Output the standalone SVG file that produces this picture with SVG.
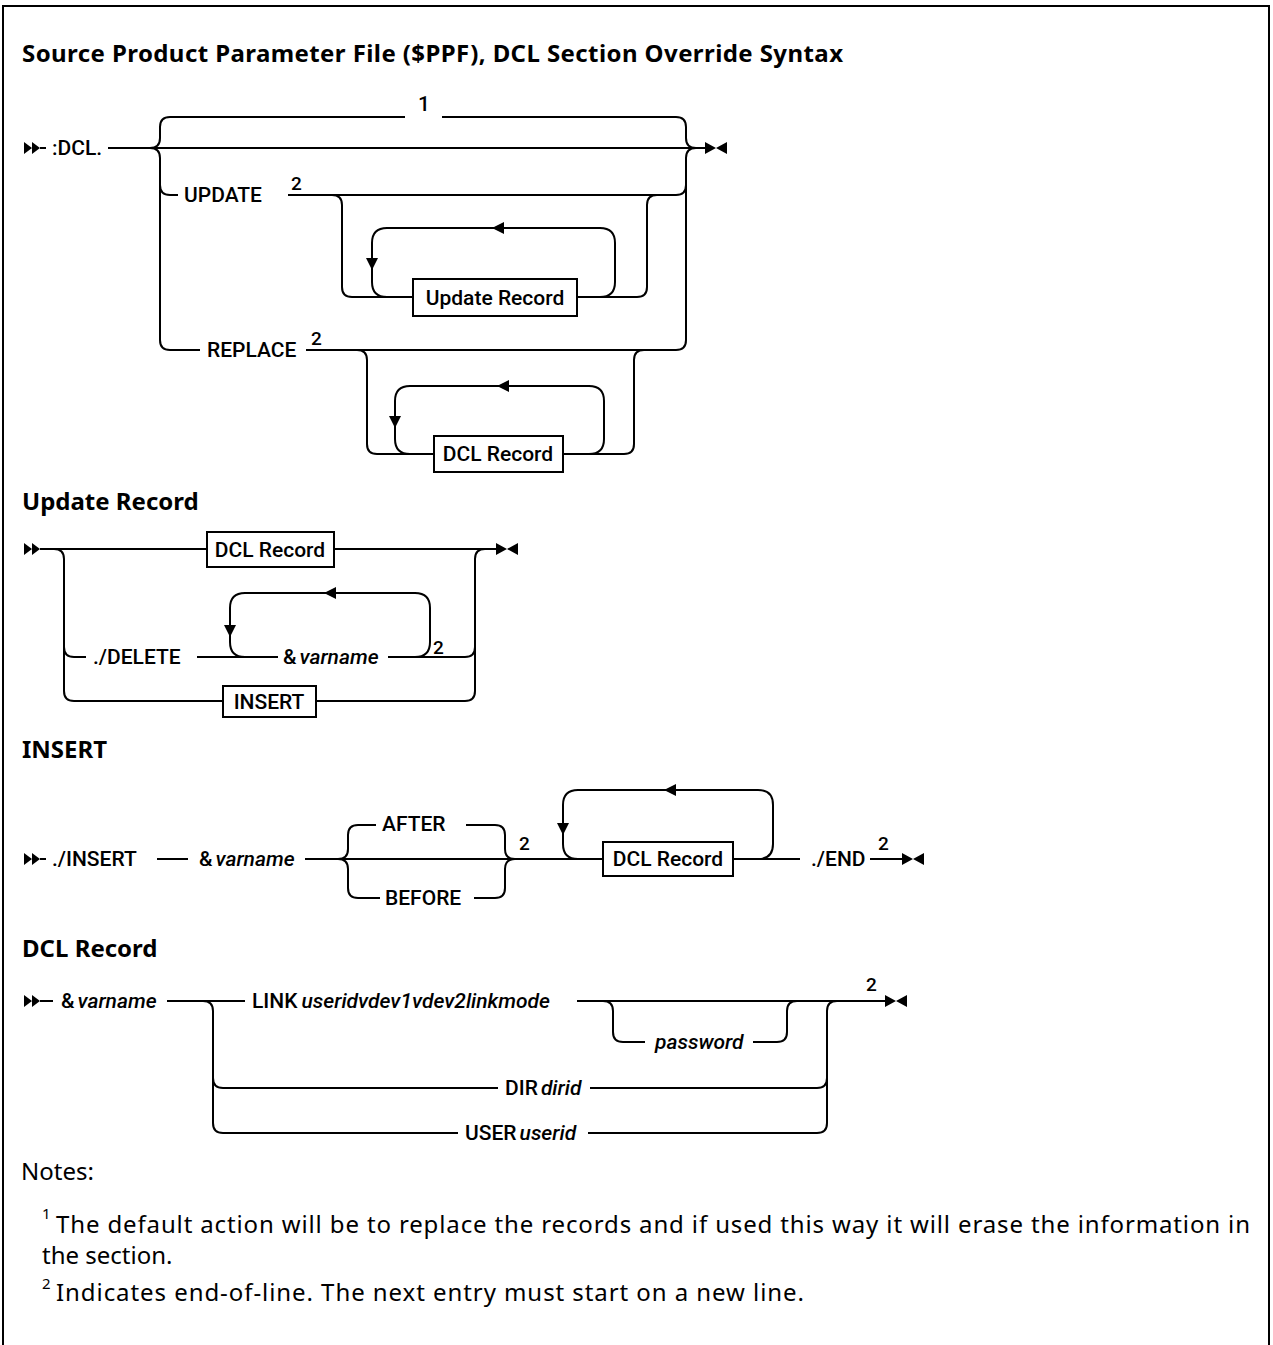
<svg xmlns="http://www.w3.org/2000/svg" width="1273" height="1345" viewBox="0 0 1273 1345">
<style>
.l{fill:none;stroke:#000;stroke-width:2}
.b{fill:#fff;stroke:#000;stroke-width:2}
.a{fill:#000;stroke:none}
.t{font-family:Roboto,"Liberation Sans",sans-serif;font-size:21px;font-weight:500;fill:#000}
.s{font-family:Roboto,"Liberation Sans",sans-serif;font-size:19px;font-weight:500;fill:#000}
.i{font-style:italic}
.h{font-family:"Noto Sans","Liberation Sans",sans-serif;font-size:24px;font-weight:bold;fill:#000}
.n{font-family:"Noto Sans","Liberation Sans",sans-serif;font-size:24px;fill:#000}
.ns{font-family:"Noto Sans","Liberation Sans",sans-serif;font-size:15px;fill:#000}
</style>
<defs>
<path id="start" d="M0,-6 L8,0 L0,6 Z M8,-6 L16,0 L8,6 Z"/>
<path id="end" d="M0,-6 L11,0 L0,6 Z M22,-6 L11,0 L22,6 Z"/>
<path id="al" d="M-6,0 L6,-6 L6,6 Z"/>
<path id="ad" d="M-6,-12 L6,-12 L0,0 Z"/>
</defs>
<rect width="1273" height="1345" fill="#fff"/>
<path class="l" d="M3,1345 V6 H1269 V1345"/>
<text class="h" x="22" y="62" textLength="821" lengthAdjust="spacing">Source Product Parameter File ($PPF), DCL Section Override Syntax</text>

<!-- Top syntax -->
<g id="connectors-top">
<path class="l" d="M40,148 H46 M108,148 H705"/>
<path class="l" d="M150,148 Q160,148 160,138 V127 Q160,117 170,117 H405 M442,117 H676 Q686,117 686,127 V138 Q686,148 696,148"/>
<path class="l" d="M150,148 Q160,148 160,158 V340 Q160,350 170,350 H200 M306,350 H676 Q686,350 686,340 V158 Q686,148 696,148"/>
<path class="l" d="M160,185 Q160,195 170,195 H178 M288,195 H676 Q686,195 686,185"/>
<path class="l" d="M332,195 Q342,195 342,205 V287 Q342,297 352,297 H413 M577,297 H637 Q647,297 647,287 V205 Q647,195 657,195"/>
<path class="l" d="M387,297 Q372,297 372,282 V243 Q372,228 387,228 H600 Q615,228 615,243 V282 Q615,297 600,297"/>
<path class="l" d="M357,350 Q367,350 367,360 V444 Q367,454 377,454 H434 M563,454 H624 Q634,454 634,444 V360 Q634,350 644,350"/>
<path class="l" d="M410,454 Q395,454 395,439 V401 Q395,386 410,386 H589 Q604,386 604,401 V439 Q604,454 589,454"/>
<use href="#start" x="24" y="148"/>
<use href="#end" x="705" y="148"/>
<use href="#al" x="498" y="228"/>
<use href="#ad" x="372" y="270"/>
<use href="#al" x="503" y="386"/>
<use href="#ad" x="395" y="428"/>
</g>
<g id="dcl-start"><text class="t" x="52" y="155">:DCL.</text></g>
<g id="label-1"><text class="t" x="424" y="111" text-anchor="middle">1</text></g>
<g id="update"><text class="t" x="184" y="202">UPDATE</text><text class="s" x="291" y="190">2</text></g>
<g id="update-record-ref"><rect class="b" x="413" y="279" width="164" height="37"/><text class="t" x="495" y="305" text-anchor="middle">Update Record</text></g>
<g id="replace"><text class="t" x="207" y="357">REPLACE</text><text class="s" x="311" y="345">2</text></g>
<g id="dcl-record-ref-1"><rect class="b" x="434" y="436" width="129" height="36"/><text class="t" x="498" y="461" text-anchor="middle">DCL Record</text></g>

<!-- Update Record -->
<text class="h" x="22" y="510">Update Record</text>
<g id="connectors-update">
<path class="l" d="M40,549 H496"/>
<path class="l" d="M54,549 Q64,549 64,559 V691 Q64,701 74,701 H223 M316,701 H465 Q475,701 475,691 V559 Q475,549 485,549"/>
<path class="l" d="M64,647 Q64,657 74,657 H86 M197,657 H278 M388,657 H465 Q475,657 475,647"/>
<path class="l" d="M245,657 Q230,657 230,642 V608 Q230,593 245,593 H415 Q430,593 430,608 V642 Q430,657 415,657"/>
<use href="#start" x="24" y="549"/>
<use href="#end" x="496" y="549"/>
<use href="#al" x="330" y="593"/>
<use href="#ad" x="230" y="637"/>
</g>
<g id="ur-dcl-record"><rect class="b" x="207" y="532" width="127" height="35"/><text class="t" x="270" y="557" text-anchor="middle">DCL Record</text></g>
<g id="ur-delete"><text class="t" x="93" y="664">./DELETE</text></g>
<g id="ur-varname"><text class="t" x="283" y="664">&amp;<tspan class="i" dx="3">varname</tspan></text><text class="s" x="433" y="654">2</text></g>
<g id="ur-insert"><rect class="b" x="223" y="686" width="93" height="31"/><text class="t" x="269" y="709" text-anchor="middle">INSERT</text></g>

<!-- INSERT -->
<text class="h" x="22" y="758">INSERT</text>
<g id="connectors-insert">
<path class="l" d="M40,859 H46 M157,859 H188 M305,859 H603 M733,859 H800 M870,859 H902"/>
<path class="l" d="M338,859 Q348,859 348,849 V835 Q348,825 358,825 H376 M466,825 H495 Q505,825 505,835 V849 Q505,859 515,859"/>
<path class="l" d="M338,859 Q348,859 348,869 V888 Q348,898 358,898 H380 M474,898 H495 Q505,898 505,888 V869 Q505,859 515,859"/>
<path class="l" d="M578,859 Q563,859 563,844 V805 Q563,790 578,790 H758 Q773,790 773,805 V844 Q773,859 758,859"/>
<use href="#start" x="24" y="859"/>
<use href="#end" x="902" y="859"/>
<use href="#al" x="670" y="790"/>
<use href="#ad" x="563" y="835"/>
</g>
<g id="ins-insert"><text class="t" x="52" y="866">./INSERT</text></g>
<g id="ins-varname"><text class="t" x="199" y="866">&amp;<tspan class="i" dx="3">varname</tspan></text></g>
<g id="ins-after"><text class="t" x="382" y="831">AFTER</text></g>
<g id="ins-before"><text class="t" x="385" y="905">BEFORE</text><text class="s" x="519" y="850">2</text></g>
<g id="ins-dcl-record"><rect class="b" x="603" y="842" width="130" height="34"/><text class="t" x="668" y="866" text-anchor="middle">DCL Record</text></g>
<g id="ins-end"><text class="t" x="811" y="866">./END</text><text class="s" x="878" y="850">2</text></g>

<!-- DCL Record -->
<text class="h" x="22" y="957">DCL Record</text>
<g id="connectors-dcl">
<path class="l" d="M40,1001 H53 M167,1001 H245 M577,1001 H885"/>
<path class="l" d="M203,1001 Q213,1001 213,1011 V1123 Q213,1133 223,1133 H458 M588,1133 H817 Q827,1133 827,1123 V1011 Q827,1001 837,1001"/>
<path class="l" d="M213,1078 Q213,1088 223,1088 H498 M590,1088 H817 Q827,1088 827,1078"/>
<path class="l" d="M603,1001 Q613,1001 613,1011 V1032 Q613,1042 623,1042 H645 M753,1042 H777 Q787,1042 787,1032 V1011 Q787,1001 797,1001"/>
<use href="#start" x="24" y="1001"/>
<use href="#end" x="885" y="1001"/>
</g>
<g id="dcl-varname"><text class="t" x="61" y="1008">&amp;<tspan class="i" dx="3">varname</tspan></text></g>
<g id="dcl-link"><text class="t" x="252" y="1008">LINK<tspan class="i" dx="4">useridvdev1vdev2linkmode</tspan></text></g>
<g id="dcl-password"><text class="t i" x="655" y="1049">password</text></g>
<g id="dcl-dir"><text class="t" x="505" y="1095">DIR<tspan class="i" dx="3">dirid</tspan></text></g>
<g id="dcl-user"><text class="t" x="465" y="1140">USER<tspan class="i" dx="3">userid</tspan></text></g>
<g id="dcl-2"><text class="s" x="866" y="991">2</text></g>

<!-- Notes -->
<g id="notes">
<text class="n" x="21" y="1180">Notes:</text>
<text class="ns" x="42" y="1219">1</text>
<text class="n" x="56" y="1233" textLength="1194" lengthAdjust="spacing">The default action will be to replace the records and if used this way it will erase the information in</text>
<text class="n" x="42" y="1264">the section.</text>
<text class="ns" x="42" y="1289">2</text>
<text class="n" x="56" y="1301" textLength="748" lengthAdjust="spacing">Indicates end-of-line. The next entry must start on a new line.</text>
</g>
</svg>
